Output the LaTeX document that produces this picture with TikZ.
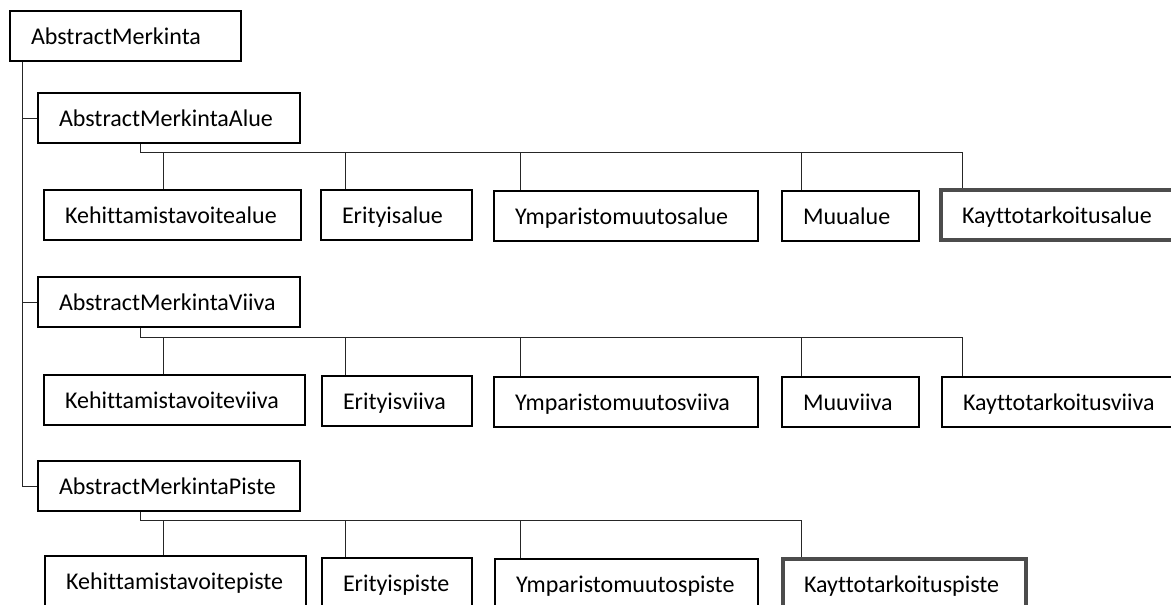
\documentclass[tikz,border=0pt]{standalone}
\usepackage{fontspec}
\setmainfont{Carlito}[Ligatures=CommonOff]
\newcommand{\bx}[6][]{\node[box,#1,minimum width=#4pt-#3pt] (#2) at ({(#3+#4)/2},#5) {\makebox[\dimexpr #4pt-#3pt-42pt\relax][l]{#6}};}
\tikzset{
  box/.style={draw=black, line width=1.6pt, rectangle, inner xsep=21pt, inner ysep=0pt,
    minimum height=50pt, text height=16pt, text depth=0pt,
    font=\fontsize{24}{28}\selectfont},
  thickbox/.style={draw=black!70, line width=3.6pt},
  conn/.style={draw=black!85, line width=1pt}
}
\begin{document}
\begin{tikzpicture}[x=1pt,y=-1pt]
\useasboundingbox (0,0) rectangle (1171,605);
\clip (0,0) rectangle (1171,605);
\fill[white] (0,0) rectangle (1171,605);
% level 0 and 1
\bx{root}{10}{241}{36}{AbstractMerkinta}
\bx{alue}{38}{300}{118}{AbstractMerkintaAlue}
\bx{viiva}{38}{300}{302}{AbstractMerkintaViiva}
\bx{piste}{38}{300}{486}{AbstractMerkintaPiste}
% Alue children
\bx{a1}{44}{301}{215}{Kehittamistavoitealue}
\bx{a2}{321}{472}{215}{Erityisalue}
\bx{a3}{494}{758}{216}{Ymparistomuutosalue}
\bx{a4}{782}{919}{216}{Muualue}
\bx[thickbox]{a5}{941}{1181}{215}{Kayttotarkoitusalue}
% Viiva children
\bx{v1}{44}{305}{400}{Kehittamistavoiteviiva}
\bx{v2}{322}{472}{401}{Erityisviiva}
\bx{v3}{494}{758}{402}{Ymparistomuutosviiva}
\bx{v4}{782}{919}{402}{Muuviiva}
\bx{v5}{942}{1190}{402}{Kayttotarkoitusviiva}
% Piste children
\bx{p1}{45}{306}{581}{Kehittamistavoitepiste}
\bx{p2}{322}{472}{583}{Erityispiste}
\bx{p3}{495}{758}{584}{Ymparistomuutospiste}
\bx[thickbox]{p4}{783}{1026}{584}{Kayttotarkoituspiste}
% trunk
\coordinate (t0) at (22,0);
\draw[conn] (root.south -| t0) -- (piste.west -| t0) -- (piste.west);
\draw[conn] (alue.west -| t0) -- (alue.west);
\draw[conn] (viiva.west -| t0) -- (viiva.west);
% buses
\coordinate (ja) at (140,152);
\coordinate (jv) at (140,337);
\coordinate (jp) at (140,520);
\draw[conn] (alue.south -| ja) -- (ja) -- (ja -| 962,0) -- (a5.north -| 962,0);
\draw[conn] (ja -| 163,0) -- (a1.north -| 163,0);
\draw[conn] (ja -| 345,0) -- (a2.north -| 345,0);
\draw[conn] (ja -| 520,0) -- (a3.north -| 520,0);
\draw[conn] (ja -| 801,0) -- (a4.north -| 801,0);
\draw[conn] (viiva.south -| jv) -- (jv) -- (jv -| 962,0) -- (v5.north -| 962,0);
\draw[conn] (jv -| 163,0) -- (v1.north -| 163,0);
\draw[conn] (jv -| 345,0) -- (v2.north -| 345,0);
\draw[conn] (jv -| 520,0) -- (v3.north -| 520,0);
\draw[conn] (jv -| 801,0) -- (v4.north -| 801,0);
\draw[conn] (piste.south -| jp) -- (jp) -- (jp -| 801,0) -- (p4.north -| 801,0);
\draw[conn] (jp -| 163,0) -- (p1.north -| 163,0);
\draw[conn] (jp -| 345,0) -- (p2.north -| 345,0);
\draw[conn] (jp -| 520,0) -- (p3.north -| 520,0);
\end{tikzpicture}
\end{document}
